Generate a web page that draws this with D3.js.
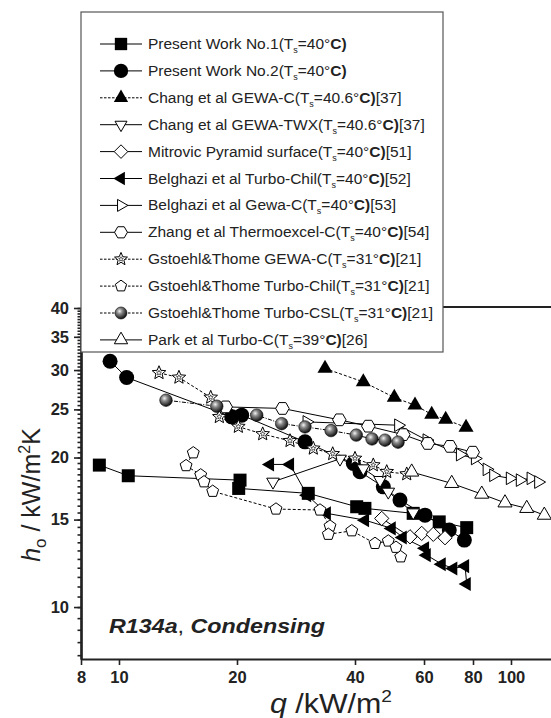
<!DOCTYPE html>
<html>
<head>
<meta charset="utf-8">
<script src="https://cdnjs.cloudflare.com/ajax/libs/d3/7.8.5/d3.min.js"></script>
<style>
  body { margin: 0; background: #fff; }
  svg { display: block; font-family: "Liberation Sans", Arial, sans-serif; }
</style>
</head>
<body>
<div id="chart"></div>
<script>
// heat flux q (kW/m2) and coefficient h_o (kW/m2K)
const qNo1 = [8.91, 10.56, 20.36, 20.2, 30.4, 40.4, 42.4, 56.3, 65.6, 77.1];
const hNo1 = [19.31, 18.38, 18.01, 17.33, 16.94, 15.92, 15.8, 15.44, 14.84, 14.45];

const qNo2 = [9.49, 10.46, 19.39, 20.56, 29.82, 39.61, 41.19, 47.24, 52.1, 60.35, 69.6, 76.04];
const hNo2 = [31.26, 28.99, 24.15, 24.34, 21.51, 19.46, 18.72, 17.46, 16.42, 15.31, 14.29, 13.64];

const qChangC = [33.54, 42.0, 50.38, 56.9, 62.77, 68.14, 76.79];
const hChangC = [30.22, 28.4, 26.42, 25.49, 24.42, 23.86, 22.99];

const qChangTWX = [24.71, 36.63, 42.0, 46.34, 48.64, 56.3];
const hChangTWX = [17.87, 19.88, 19.01, 18.01, 17.06, 15.5];

const qMitrovic = [46.8, 55.26, 59.18, 63.36, 67.87];
const hMitrovic = [15.08, 13.85, 14.07, 14.01, 13.79];

const qBelTurbo = [24.28, 27.31, 30.2, 33.9, 42.42, 49.62, 52.94, 60.35, 60.95, 66.57, 71.25, 76.35, 77.1];
const hBelTurbo = [19.37, 19.37, 16.8, 15.44, 14.96, 14.4, 13.81, 13.13, 12.72, 12.2, 11.96, 12.09, 11.13];

const qBelGewa = [30.12, 51.58, 60.95, 74.14, 80.96, 86.74, 90.15, 99.4, 105.4, 112.3, 117.4];
const hBelGewa = [23.59, 23.23, 21.68, 20.27, 19.91, 18.93, 18.42, 18.16, 18.01, 18.16, 17.85];

const qZhang = [18.72, 26.12, 36.48, 43.25, 53.12, 61.32, 69.89, 79.87];
const hZhang = [25.29, 25.11, 23.82, 23.13, 22.24, 21.35, 21.06, 20.5];

const qGsGewa = [12.65, 14.22, 17.14, 18.03, 20.16, 23.26, 27.31, 31.31, 35.09, 40.0, 44.54, 48.19, 54.2];
const hGsGewa = [29.61, 28.99, 26.42, 24.15, 23.08, 22.3, 21.61, 20.86, 20.34, 19.91, 19.31, 18.72, 18.52];

const qGsTurbo = [15.47, 14.83, 16.16, 16.48, 17.34, 25.15, 32.57, 34.54, 34.2, 39.25, 44.99, 48.64, 50.89, 52.32];
const hGsTurbo = [20.44, 19.26, 18.45, 17.87, 17.1, 15.75, 15.68, 14.55, 14.01, 14.24, 13.43, 13.58, 13.19, 12.62];

const qGsCSL = [13.18, 17.76, 22.46, 26.0, 29.82, 34.75, 40.3, 44.2, 47.71, 51.5];
const hGsCSL = [26.09, 25.37, 24.34, 23.4, 23.05, 22.66, 22.19, 21.8, 21.68, 21.48];

const qPark = [55.81, 70.6, 84.22, 96.54, 109.7, 121.6];
const hPark = [18.7, 17.74, 16.88, 16.21, 15.8, 15.31];

const xTicks = [8, 10, 20, 40, 60, 80, 100];
const yTicks = [10, 15, 20, 25, 30, 35, 40];

// legend order: name, saturation temp, reference
const series = [
  {name: "Present Work No.1", t: "40", ref: "", q: qNo1, h: hNo1, mk: "square", fill: true, dash: null},
  {name: "Present Work No.2", t: "40", ref: "", q: qNo2, h: hNo2, mk: "circle", fill: true, dash: null},
  {name: "Chang et al GEWA-C", t: "40.6", ref: "[37]", q: qChangC, h: hChangC, mk: "triUp", fill: true, dash: "3,2"},
  {name: "Chang et al GEWA-TWX", t: "40.6", ref: "[37]", q: qChangTWX, h: hChangTWX, mk: "triDown", fill: false, dash: null},
  {name: "Mitrovic Pyramid surface", t: "40", ref: "[51]", q: qMitrovic, h: hMitrovic, mk: "diamond", fill: false, dash: null},
  {name: "Belghazi et al Turbo-Chil", t: "40", ref: "[52]", q: qBelTurbo, h: hBelTurbo, mk: "triLeft", fill: true, dash: null},
  {name: "Belghazi et al Gewa-C", t: "40", ref: "[53]", q: qBelGewa, h: hBelGewa, mk: "triRight", fill: false, dash: null},
  {name: "Zhang et al Thermoexcel-C", t: "40", ref: "[54]", q: qZhang, h: hZhang, mk: "hexagon", fill: false, dash: null},
  {name: "Gstoehl&Thome GEWA-C", t: "31", ref: "[21]", q: qGsGewa, h: hGsGewa, mk: "star", fill: false, dash: "3,2"},
  {name: "Gstoehl&Thome Turbo-Chil", t: "31", ref: "[21]", q: qGsTurbo, h: hGsTurbo, mk: "pentagon", fill: false, dash: "3,2"},
  {name: "Gstoehl&Thome Turbo-CSL", t: "31", ref: "[21]", q: qGsCSL, h: hGsCSL, mk: "sphere", fill: true, dash: "4,1.5,1,1.5"},
  {name: "Park et al Turbo-C", t: "39", ref: "[26]", q: qPark, h: hPark, mk: "triUpOpen", fill: false, dash: null}
];

const W = 551, H = 718;
const svg = d3.select("#chart").append("svg")
  .attr("width", W)
  .attr("height", H);

// sphere look for the Turbo-CSL points
const grad = svg.append("defs").append("radialGradient")
  .attr("id", "ball").attr("cx", "38%").attr("cy", "35%").attr("r", "65%");
grad.append("stop").attr("offset", "0%").attr("stop-color", "#f4f4f4");
grad.append("stop").attr("offset", "35%").attr("stop-color", "#8a8a8a");
grad.append("stop").attr("offset", "100%").attr("stop-color", "#111");

const x = d3.scaleLog().domain([8, 160]).range([81, 81 + Math.log10(20) * 392]);
const y = d3.scaleLog().domain([7.86, 40]).range([659, 308]);

// polygon markers from a radial line
function poly(n, r, start, inner) {
  const pts = [];
  const m = inner ? n * 2 : n;
  for (let i = 0; i < m; i++) {
    const rr = inner && i % 2 ? r * inner : r;
    pts.push([start + i * 2 * Math.PI / m, rr]);
  }
  return d3.lineRadial().curve(d3.curveLinearClosed)(pts);
}

function markerPath(mk, s) {
  switch (mk) {
    case "square": return d3.symbol(d3.symbolSquare, s * s * 1.0)();
    case "circle": case "sphere": return d3.symbol(d3.symbolCircle, Math.PI * s * s / 4)();
    case "triUp": case "triUpOpen": return poly(3, s * 0.58, 0);
    case "triDown": return poly(3, s * 0.56, Math.PI);
    case "triLeft": return poly(3, s * 0.58, -Math.PI / 2);
    case "triRight": return poly(3, s * 0.56, Math.PI / 2);
    case "diamond": return poly(4, s * 0.55, 0);
    case "hexagon": return poly(6, s * 0.52, Math.PI / 2);
    case "pentagon": return poly(5, s * 0.5, 0);
    case "star": return poly(5, s * 0.55, 0, 0.45);
  }
}

const sizeOf = {square: 13, circle: 15, sphere: 12.5, triUp: 15, triUpOpen: 14, triDown: 13,
  triLeft: 14, triRight: 13, diamond: 13, hexagon: 13, pentagon: 12.5, star: 13};

function drawMarker(g, d, sc) {
  const s = sizeOf[d.mk] * sc;
  const p = g.append("path").attr("d", markerPath(d.mk, s));
  if (d.mk === "sphere") {
    p.attr("fill", "url(#ball)").attr("stroke", "#000").attr("stroke-width", 0.6);
  } else if (d.fill) {
    p.attr("fill", "#000").attr("stroke", "none");
  } else {
    p.attr("fill", "#fff").attr("stroke", "#000").attr("stroke-width", 1);
  }
  if (d.mk === "star") {
    g.append("path").attr("d", poly(5, s * 0.2, 0, 0.45))
      .attr("fill", "none").attr("stroke", "#000").attr("stroke-width", 0.6);
  }
}

const plot = svg.append("g");

// connecting lines
const line = d3.line().x(d => x(d[0])).y(d => y(d[1]));
series.forEach(function(s) {
  plot.append("path")
    .datum(s.q.map((v, i) => [v, s.h[i]]))
    .attr("d", line)
    .attr("fill", "none")
    .attr("stroke", "#000")
    .attr("stroke-width", 1)
    .attr("stroke-dasharray", s.dash);
});

// markers
series.forEach(function(s) {
  s.q.forEach(function(v, i) {
    const g = plot.append("g").attr("transform", `translate(${x(v)},${y(s.h[i])})`);
    drawMarker(g, s, 1);
  });
});

// axes
const xAxis = svg.append("g")
  .attr("transform", `translate(0,${y(7.86)})`)
  .call(d3.axisBottom(x).tickValues(xTicks).tickSize(6).tickSizeOuter(0).tickPadding(6)
    .tickFormat(d3.format("d")));

const yMinor = svg.append("g")
  .attr("transform", `translate(${x(8)},0)`)
  .call(d3.axisLeft(y).tickValues(d3.range(8, 40.01, 0.5)).tickSize(3.5).tickSizeOuter(0).tickFormat(""));
const yAxis = svg.append("g")
  .attr("transform", `translate(${x(8)},0)`)
  .call(d3.axisLeft(y).tickValues(yTicks).tickSize(7).tickSizeOuter(0).tickPadding(5)
    .tickFormat(d3.format("d")));

[xAxis, yAxis, yMinor].forEach(function(a) {
  a.select(".domain").attr("stroke", "#222").attr("stroke-width", 2.2);
  a.selectAll(".tick line").attr("stroke", "#222").attr("stroke-width", 1.6);
  a.selectAll("text")
    .attr("fill", "#222")
    .style("font-size", "16.5px")
    .style("font-weight", "bold")
    .style("font-family", "'Liberation Sans', Arial, sans-serif");
});

// top frame line
svg.append("line")
  .attr("x1", x(8)).attr("x2", W)
  .attr("y1", y(40) - 1).attr("y2", y(40) - 1)
  .attr("stroke", "#222").attr("stroke-width", 2.2);

// axis titles
svg.append("text")
  .attr("x", 331).attr("y", 713)
  .attr("text-anchor", "middle")
  .style("font-size", "27px")
  .attr("fill", "#222")
  .attr("textLength", 122)
  .attr("lengthAdjust", "spacingAndGlyphs")
  .html('<tspan font-style="italic">q</tspan> /kW/m<tspan dy="-11" font-size="17px">2</tspan>');

svg.append("text")
  .attr("transform", "translate(40,495) rotate(-90)")
  .attr("text-anchor", "middle")
  .style("font-size", "25px")
  .attr("fill", "#222")
  .html('<tspan font-style="italic">h</tspan><tspan dy="6" font-size="17px">o</tspan><tspan dy="-6"> / kW/m</tspan><tspan dy="-10" font-size="16px">2</tspan><tspan dy="10">K</tspan>');

// annotation
svg.append("text")
  .attr("x", 109).attr("y", 633)
  .style("font-size", "21px")
  .attr("fill", "#222")
  .attr("textLength", 216)
  .attr("lengthAdjust", "spacingAndGlyphs")
  .html('<tspan font-weight="bold" font-style="italic">R134a</tspan>, <tspan font-weight="bold" font-style="italic">Condensing</tspan>');

// legend box
const leg = svg.append("g");
leg.append("rect")
  .attr("x", 81).attr("y", 12)
  .attr("width", 362).attr("height", 340)
  .attr("fill", "#fff").attr("stroke", "#555").attr("stroke-width", 1.2);

series.forEach(function(s, i) {
  const cy = 44 + i * 26.9;
  leg.append("line")
    .attr("x1", 100).attr("x2", 142)
    .attr("y1", cy).attr("y2", cy)
    .attr("stroke", "#000").attr("stroke-width", 1)
    .attr("stroke-dasharray", s.dash ? "2.5,1.5" : null);
  drawMarker(leg.append("g").attr("transform", `translate(121,${cy})`), s, 0.95);
  leg.append("text")
    .attr("x", 148).attr("y", cy + 5)
    .style("font-size", "15.5px")
    .attr("fill", "#222")
    .html(`${s.name.replace("&", "&amp;")}(T<tspan dy="4" font-size="9px">s</tspan><tspan dy="-4">=${s.t}°</tspan><tspan font-weight="bold">C)</tspan>${s.ref}`);
});
</script>
</body>
</html>
